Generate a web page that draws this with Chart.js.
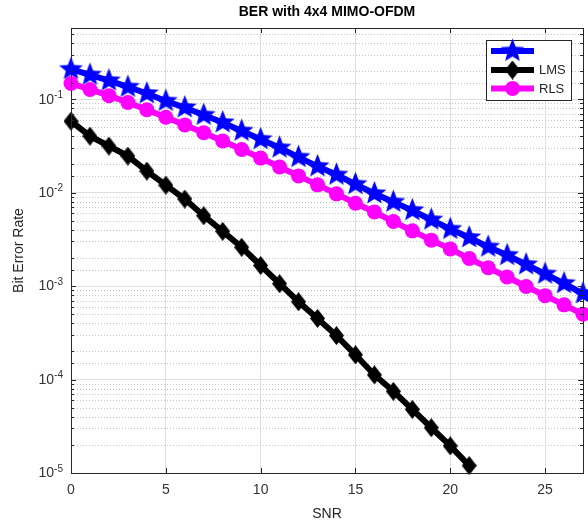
<!DOCTYPE html>
<html>
<head>
<meta charset="utf-8">
<script src="https://cdn.jsdelivr.net/npm/chart.js@4.4.1/dist/chart.umd.min.js"></script>
<style>
  html, body { margin: 0; padding: 0; background: #fff; }
  #wrap { width: 588px; height: 526px; }
</style>
</head>
<body>
<div id="wrap"><canvas id="berChart" width="588" height="526"></canvas></div>
<script>
// values
const snr = [0, 1, 2, 3, 4, 5, 6, 7, 8, 9, 10, 11, 12, 13, 14, 15, 16, 17, 18, 19, 20, 21, 22, 23, 24, 25, 26, 27];
const mimoBer = [0.209, 0.182, 0.158, 0.135, 0.115, 0.0955, 0.0813, 0.0676, 0.0562, 0.0457, 0.0372, 0.0302, 0.0240, 0.0191,
  0.0155, 0.0123, 0.00977, 0.00794, 0.00646, 0.00513, 0.00407, 0.00331, 0.00263, 0.00214, 0.00170, 0.00135, 0.00107, 0.000832];
const lmsBer = [0.0581, 0.0402, 0.0315, 0.0246, 0.0170, 0.0120, 0.00853, 0.00566, 0.00385, 0.00260, 0.00166, 0.00106,
  0.000679, 0.000451, 0.000295, 0.000184, 0.000112, 0.0000748, 0.0000479, 0.0000305, 0.0000195, 0.0000120];
const rlsBer = [0.147, 0.127, 0.109, 0.092, 0.077, 0.064, 0.053, 0.0437, 0.0356, 0.0289, 0.0234, 0.0188, 0.0151, 0.0121,
  0.0097, 0.0077, 0.0062, 0.0049, 0.0039, 0.0031, 0.0025, 0.00197, 0.00157, 0.00125, 0.00099, 0.00079, 0.00063, 0.0005];
const xTicks = [0, 5, 10, 15, 20, 25];
const yExponents = [-1, -2, -3, -4, -5];
const seriesLabels = ['', 'LMS', 'RLS'];
const chartTitle = 'BER with 4x4 MIMO-OFDM';

const FONT = "'Liberation Sans', Arial, sans-serif";
const AXIS_COLOR = '#262626';

function toPoints(vals) {
  return vals.map((v, i) => ({ x: snr[i], y: v }));
}

// filled pentagram marker
function makeStar(color, outer, inner) {
  const c = document.createElement('canvas');
  const s = Math.ceil(outer * 2 + 2);
  c.width = s; c.height = s;
  const g = c.getContext('2d');
  g.fillStyle = color;
  g.beginPath();
  for (let i = 0; i < 10; i++) {
    const r = i % 2 === 0 ? outer : inner;
    const a = -Math.PI / 2 + i * Math.PI / 5;
    const px = s / 2 + r * Math.cos(a), py = s / 2 + r * Math.sin(a);
    if (i === 0) g.moveTo(px, py); else g.lineTo(px, py);
  }
  g.closePath();
  g.fill();
  return c;
}

function makeDiamond(color, w, h) {
  const c = document.createElement('canvas');
  c.width = w; c.height = h;
  const g = c.getContext('2d');
  g.fillStyle = color;
  g.beginPath();
  g.moveTo(w / 2, 0); g.lineTo(w, h / 2); g.lineTo(w / 2, h); g.lineTo(0, h / 2);
  g.closePath();
  g.fill();
  return c;
}

const starImg = makeStar('#0000ff', 12.5, 5.4);
const diamondImg = makeDiamond('#000000', 15, 19);

const isDecade = v => Math.abs(Math.log10(v) - Math.round(Math.log10(v))) < 1e-6;

const matlabAxes = {
  id: 'matlabAxes',
  beforeDatasetsDraw(chart) {
    const { ctx, chartArea: a, scales: { y } } = chart;
    ctx.save();
    ctx.strokeStyle = '#c4c4c4';
    ctx.lineWidth = 1;
    ctx.setLineDash([1, 2]);
    y.ticks.forEach(t => {
      if (isDecade(t.value) || t.value >= y.max) return;
      const py = Math.round(y.getPixelForValue(t.value)) + 0.5;
      ctx.beginPath();
      ctx.moveTo(a.left, py); ctx.lineTo(a.right, py);
      ctx.stroke();
    });
    ctx.restore();
  },
  afterDraw(chart) {
    const { ctx, chartArea: a, scales: { x, y } } = chart;
    ctx.save();
    // title centred over the axes
    ctx.fillStyle = '#000';
    ctx.font = 'bold 14px ' + FONT;
    ctx.textAlign = 'center';
    ctx.textBaseline = 'middle';
    ctx.fillText(chartTitle, (a.left + a.right) / 2, 12.5);

    // box
    ctx.strokeStyle = AXIS_COLOR;
    ctx.lineWidth = 1;
    ctx.strokeRect(Math.round(a.left) + 0.5, Math.round(a.top) + 0.5,
      Math.round(a.right - a.left), Math.round(a.bottom - a.top));
    // inward ticks
    ctx.beginPath();
    xTicks.forEach(v => {
      const px = Math.round(x.getPixelForValue(v)) + 0.5;
      ctx.moveTo(px, a.bottom); ctx.lineTo(px, a.bottom - 5);
      ctx.moveTo(px, a.top); ctx.lineTo(px, a.top + 5);
    });
    y.ticks.forEach(t => {
      if (t.value >= y.max) return;
      const len = isDecade(t.value) ? 5 : 3;
      const py = Math.round(y.getPixelForValue(t.value)) + 0.5;
      ctx.moveTo(a.left, py); ctx.lineTo(a.left + len, py);
      ctx.moveTo(a.right, py); ctx.lineTo(a.right - len, py);
    });
    ctx.stroke();

    // y tick labels as 10 with superscript exponent
    ctx.fillStyle = '#333';
    yExponents.forEach(e => {
      const py = y.getPixelForValue(Math.pow(10, e));
      const sup = String(e);
      ctx.font = '10px ' + FONT;
      const supW = ctx.measureText(sup).width;
      const supX = a.left - 8 - supW;
      ctx.textAlign = 'left';
      ctx.textBaseline = 'alphabetic';
      ctx.fillText(sup, supX, py - 1.5);
      ctx.font = '14px ' + FONT;
      ctx.textAlign = 'right';
      ctx.textBaseline = 'middle';
      ctx.fillText('10', supX, py + 0.5);
    });

    // legend
    const lx = 486, ly = 40, lw = 85, lh = 60;
    ctx.fillStyle = '#fff';
    ctx.fillRect(lx, ly, lw, lh);
    ctx.strokeStyle = AXIS_COLOR;
    ctx.lineWidth = 1;
    ctx.strokeRect(lx + 0.5, ly + 0.5, lw, lh);
    const rows = [51, 70, 88.5];
    [0, 1, 2].forEach((di, r) => {
      const ds = chart.data.datasets[di];
      const ry = rows[r];
      ctx.strokeStyle = ds.borderColor;
      ctx.lineWidth = ds.borderWidth;
      ctx.beginPath();
      ctx.moveTo(491, ry); ctx.lineTo(534, ry);
      ctx.stroke();
      const ps = ds.pointStyle;
      if (ps === 'circle') {
        ctx.fillStyle = ds.pointBackgroundColor;
        ctx.beginPath();
        ctx.arc(512.5, ry, ds.pointRadius, 0, Math.PI * 2);
        ctx.fill();
      } else {
        ctx.drawImage(ps, 512.5 - ps.width / 2, ry - ps.height / 2);
      }
      if (seriesLabels[di]) {
        ctx.fillStyle = AXIS_COLOR;
        ctx.font = '13px ' + FONT;
        ctx.textAlign = 'left';
        ctx.textBaseline = 'middle';
        ctx.fillText(seriesLabels[di], 539, ry + 0.5);
      }
    });
    ctx.restore();
  }
};

new Chart(document.getElementById('berChart'), {
  type: 'line',
  data: {
    datasets: [
      {
        label: seriesLabels[0],
        data: toPoints(mimoBer),
        borderColor: '#0000ff',
        borderWidth: 6,
        pointStyle: starImg,
        pointRadius: 6,
        pointBackgroundColor: '#0000ff',
        order: 2,
        clip: false
      },
      {
        label: seriesLabels[1],
        data: toPoints(lmsBer),
        borderColor: '#000000',
        borderWidth: 6,
        pointStyle: diamondImg,
        pointRadius: 6,
        pointBackgroundColor: '#000000',
        order: 1,
        clip: false
      },
      {
        label: seriesLabels[2],
        data: toPoints(rlsBer),
        borderColor: '#ff00ff',
        borderWidth: 6,
        pointStyle: 'circle',
        pointRadius: 7.5,
        pointBorderWidth: 0,
        pointBackgroundColor: '#ff00ff',
        order: 0,
        clip: false
      }
    ]
  },
  options: {
    responsive: false,
    animation: false,
    layout: { autoPadding: false, padding: { left: 0, right: 5, top: 28, bottom: 0 } },
    plugins: {
      legend: { display: false },
      tooltip: { enabled: false },
      title: { display: false }
    },
    scales: {
      x: {
        type: 'linear',
        min: 0,
        max: 27,
        afterFit: s => { s.height = 53; s.paddingLeft = 0; s.paddingRight = 0; },
        afterBuildTicks: s => { s.ticks = xTicks.map(v => ({ value: v })); },
        ticks: { includeBounds: false, color: '#333', font: { family: FONT, size: 14 }, padding: 9, maxRotation: 0 },
        grid: { color: '#dedede', drawTicks: false },
        border: { display: false },
        title: { display: true, text: 'SNR', color: AXIS_COLOR, font: { family: FONT, size: 14 }, padding: { top: 0, bottom: 3 } }
      },
      y: {
        type: 'logarithmic',
        min: 1e-5,
        max: 0.577,
        afterFit: s => { s.width = 71; s.paddingTop = 0; s.paddingBottom = 0; },
        ticks: { display: false, autoSkip: false },
        grid: {
          drawTicks: false,
          color: c => (c.tick && isDecade(c.tick.value) ? '#dedede' : 'rgba(0,0,0,0)')
        },
        border: { display: false },
        title: { display: true, text: 'Bit Error Rate', color: AXIS_COLOR, font: { family: FONT, size: 14 }, padding: { top: 10.5, bottom: 0 } }
      }
    }
  },
  plugins: [matlabAxes]
});
</script>
</body>
</html>
